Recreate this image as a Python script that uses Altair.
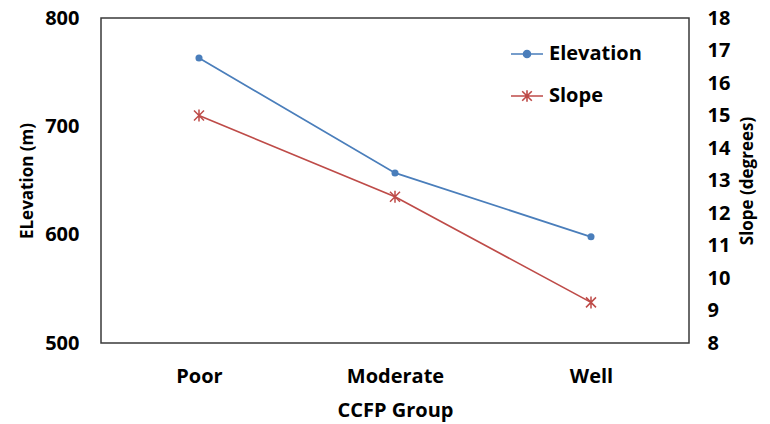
import altair as alt
import pandas as pd

# ---- data ----
groups = ["Poor", "Moderate", "Well"]
elevation = [763, 657, 598]          # metres (left axis)
slope = [15.0, 12.5, 9.25]           # degrees (right axis)
series_names = ["Elevation", "Slope"]

BLUE = "#4A7EBB"
RED = "#BE4B48"
FONT = "Open Sans"

df = pd.DataFrame({"group": groups, "elevation": elevation, "slope": slope})
legend_df = pd.DataFrame({"series": series_names})

# custom symbol paths (unit square coordinates)
STAR = "M-1,-1L1,1M-1,1L1,-1M0,-1.2V1.2"
LEG_ELEV = "M-1,0H1M0.22,0A0.22,0.22,0,1,1,-0.22,0A0.22,0.22,0,1,1,0.22,0Z"
LEG_SLOPE = "M-1,0H1M-0.3,-0.3L0.3,0.3M-0.3,0.3L0.3,-0.3M0,-0.36V0.36"

x_enc = alt.X(
    "group:N",
    sort=groups,
    scale=alt.Scale(type="point", padding=0.5),
    axis=alt.Axis(
        title="CCFP Group",
        domain=False,
        ticks=False,
        grid=False,
        labelAngle=0,
        labelPadding=23,
        titlePadding=14,
        titleFontSize=20,
    ),
)

base = alt.Chart(df).encode(x=x_enc)

left_axis = alt.Axis(
    title="ELevation (m)",
    orient="left",
    values=[500, 600, 700, 800],
    domain=False,
    ticks=False,
    grid=False,
    labelPadding=22,
    titlePadding=8,
    titleFontSize=17,
)
right_axis = alt.Axis(
    title="Slope (degrees)",
    orient="right",
    values=list(range(8, 19)),
    domain=False,
    ticks=False,
    grid=False,
    labelPadding=18,
    titlePadding=10,
    titleAngle=-90,
    titleBaseline="top",
    titleFontSize=17,
)

y_elev = alt.Y("elevation:Q", scale=alt.Scale(domain=[500, 800], nice=False, zero=False), axis=left_axis)
y_slope = alt.Y("slope:Q", scale=alt.Scale(domain=[8, 18], nice=False, zero=False), axis=right_axis)

elev_line = base.mark_line(color=BLUE, strokeWidth=1.7).encode(y=y_elev)
elev_pts = base.mark_point(shape="circle", filled=True, size=50, color=BLUE, opacity=1).encode(y=y_elev)
slope_line = base.mark_line(color=RED, strokeWidth=1.7).encode(y=y_slope)
slope_pts = base.mark_point(shape=STAR, filled=False, size=100, color=RED, strokeWidth=1.5, opacity=1).encode(y=y_slope)

legend_cfg = alt.Legend(
    title=None,
    orient="none",
    legendX=409,
    legendY=19,
    symbolSize=1024,
    symbolStrokeWidth=1.6,
    labelOffset=5,
    rowPadding=15,
    padding=0,
    labelFontSize=20,
    labelFontWeight="bold",
    labelColor="black",
    labelFont=FONT,
)
legend_layer = (
    alt.Chart(legend_df)
    .mark_point(filled=True, opacity=1)
    .encode(
        fill=alt.Fill("series:N", scale=alt.Scale(domain=series_names, range=[BLUE, RED]), legend=legend_cfg),
        stroke=alt.Stroke("series:N", scale=alt.Scale(domain=series_names, range=[BLUE, RED]), legend=legend_cfg),
        shape=alt.Shape("series:N", scale=alt.Scale(domain=series_names, range=[LEG_ELEV, LEG_SLOPE]), legend=legend_cfg),
    )
    .transform_filter("datum.series == 'none'")
)

chart = (
    alt.layer(
        alt.layer(elev_line, elev_pts),
        alt.layer(slope_line, slope_pts),
        legend_layer,
    )
    .resolve_scale(y="independent")
    .properties(
        width=588,
        height=325,
        autosize=alt.AutoSizeParams(type="none"),
        padding={"left": 101, "top": 18, "right": 81, "bottom": 81},
        background="white",
    )
    .configure_view(stroke="#3a3a3a", strokeWidth=1.5)
    .configure_axis(
        labelFont=FONT,
        labelFontSize=20,
        labelFontWeight="bold",
        labelColor="black",
        titleFont=FONT,
        titleFontWeight="bold",
        titleColor="black",
    )
)

chart.save("out.html", embed_options={"renderer": "svg", "actions": False})
